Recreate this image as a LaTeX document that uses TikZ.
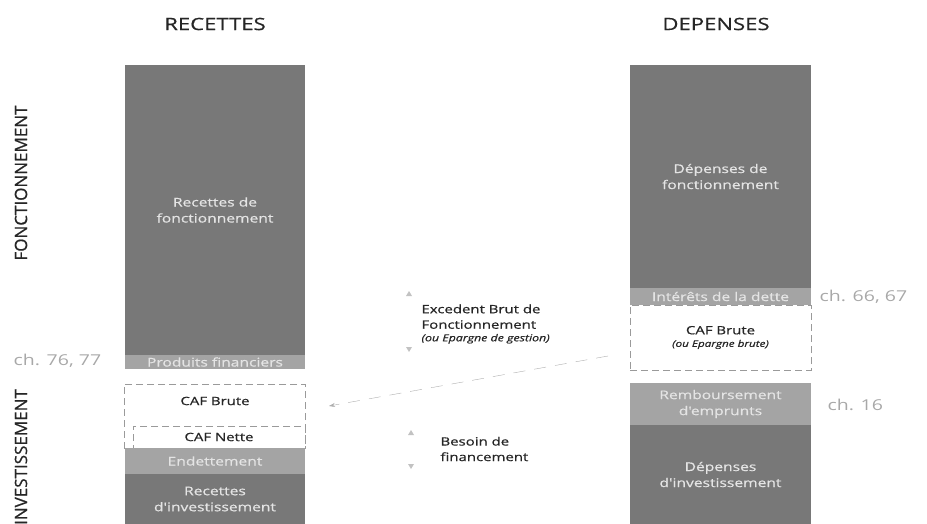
\documentclass[tikz,border=0pt]{standalone}
\usepackage{fontspec}
\setmainfont{Open Sans}[FakeStretch=1.3]
\newfontfamily\demigras{Open Sans}[FakeStretch=1.3,FakeBold=0.7]
\newfontfamily\vertfont{Open Sans}[FakeBold=0.7]
\usetikzlibrary{arrows.meta}
\definecolor{fonce}{HTML}{787878}
\definecolor{clair}{HTML}{A4A4A4}
\definecolor{txtbloc}{HTML}{E4E4E4}
\definecolor{pointille}{HTML}{9A9A9A}
\definecolor{chap}{HTML}{A8A8A8}
\definecolor{fleche}{HTML}{C2C2C2}
\begin{document}
\begin{tikzpicture}[x=1pt,y=-1pt,
	bloc/.style={fill=fonce,text=txtbloc,inner sep=0pt,outer sep=0pt,anchor=north west,align=center,font=\demigras\fontsize{12}{16}\selectfont},
	bande/.style={bloc,fill=clair},
	cadre/.style={draw=pointille,dash pattern=on 7pt off 4pt,fill=white,inner sep=0pt,outer sep=0pt,anchor=north west},
	lab/.style={text=black!85,align=center,font=\demigras\fontsize{11.5}{15.5}\selectfont},
	titre/.style={text=black!85,font=\demigras\fontsize{17}{20}\selectfont},
	cote/.style={rotate=90,text=black!85,font=\vertfont\fontsize{17}{20}\selectfont},
	chlab/.style={anchor=west,text=chap,font=\fontsize{15}{18}\selectfont},
	tri/.style={fill=fleche}]
	\useasboundingbox (0,0) rectangle (927,524);
	% titres
	\node[titre] (rec) at (215,24) {RECETTES};
	\node[titre] (dep) at (716,24) {DEPENSES};
	\node[cote] (fonc) at (21,183) {FONCTIONNEMENT};
	\node[cote] (inv) at (21,457) {INVESTISSEMENT};
	% recettes
	\node[bloc, minimum width=180pt, minimum height=290pt] (recfonc) at (125,65) {Recettes de\\fonctionnement};
	\node[bande, minimum width=180pt, minimum height=14pt] (prodfin) at (125,355) {Produits financiers};
	\node[cadre, minimum width=181pt, minimum height=64pt] (cafbrute) at (124,384) {};
	\node[lab] (cafbrutetxt) at (215,401) {CAF Brute};
	\node[cadre, minimum width=172pt, minimum height=22pt, lab] (cafnette) at (133,426) {CAF Nette};
	\node[bande, minimum width=180pt, minimum height=26pt] (endet) at (125,448) {Endettement};
	\node[bloc, minimum width=180pt, minimum height=50pt] (recinv) at (125,474) {Recettes\\d'investissement};
	\node[chlab] (ch1) at (10,361) {ch. 76, 77};
	% depenses
	\node[bloc, minimum width=181pt, minimum height=223pt] (depfonc) at (630,65) {Dépenses de\\fonctionnement};
	\node[bande, minimum width=181pt, minimum height=17pt] (interets) at (630,288) {Intérêts de la dette};
	\node[cadre, minimum width=181pt, minimum height=65pt, lab] (cafbruted) at (630,305) {CAF Brute\\[-3pt]{\itshape\fontsize{9}{12}\selectfont (ou Epargne brute)}};
	\node[bande, minimum width=181pt, minimum height=42pt] (rembours) at (630,383) {Remboursement\\d'emprunts};
	\node[bloc, minimum width=181pt, minimum height=99pt] (depinv) at (630,425) {Dépenses\\d'investissement};
	\node[chlab] (ch2) at (816,297) {ch. 66, 67};
	\node[chlab] (ch3) at (824,405) {ch. 16};
	% milieu
	\node[lab, anchor=west, align=left] (excedent) at (418,324) {Excedent Brut de\\Fonctionnement\\[-3pt]{\itshape\fontsize{9.5}{12}\selectfont (ou Epargne de gestion)}};
	\node[lab, anchor=west, align=left] (besoin) at (437,449) {Besoin de\\financement};
	\fill[tri] (409,291) -- (412,296) -- (406,296) -- cycle;
	\fill[tri] (409,352) -- (412,347) -- (406,347) -- cycle;
	\fill[tri] (411,430) -- (414,435) -- (408,435) -- cycle;
	\fill[tri] (411,469) -- (414,464) -- (408,464) -- cycle;
	\coordinate (depart) at (608,356);
	\coordinate (arrivee) at (329,406);
	\draw[pointille!80, dash pattern=on 12pt off 9pt, -{Stealth[length=6pt,width=4pt]}] (depart) -- (arrivee);
\end{tikzpicture}
\end{document}
